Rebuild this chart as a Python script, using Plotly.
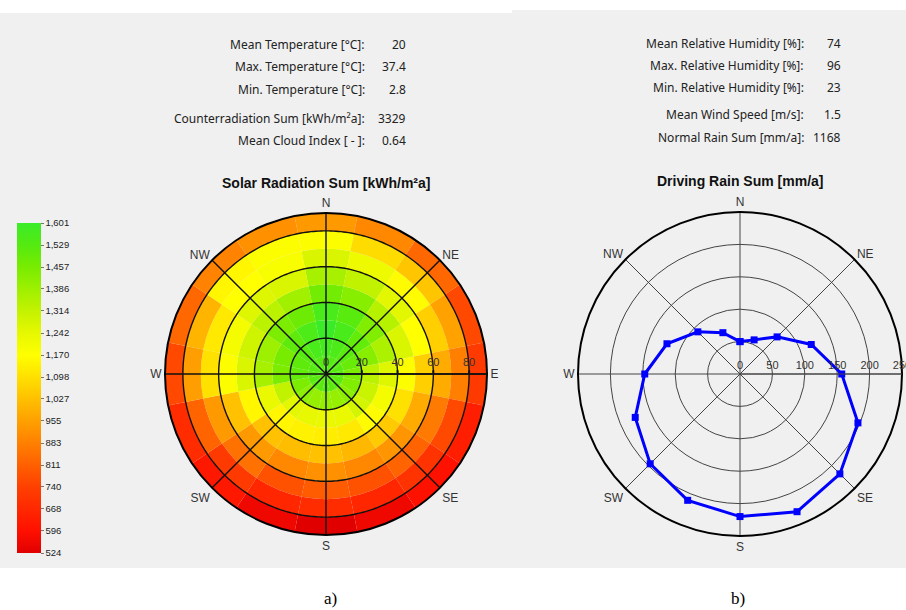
import plotly.graph_objects as go
import numpy as np

W_PX, H_PX = 906, 610

# ---------------- data ----------------
# azimuth sectors, compass degrees clockwise from north
azimuths = [0, 22.5, 45, 67.5, 90, 112.5, 135, 157.5,
            180, 202.5, 225, 247.5, 270, 292.5, 315, 337.5]
# inclination rings (deg), lower edge of each 10-degree ring
incl_lower = [0, 10, 20, 30, 40, 50, 60, 70, 80]
incl_step = 10

# solar radiation sum [kWh/m²a] per azimuth, from horizontal (0) to vertical (90)
rad_N   = [1530, 1570, 1601, 1560, 1470, 1370, 1270, 1180, 940]
rad_NNE = [1530, 1550, 1560, 1520, 1430, 1320, 1220, 1090, 900]
rad_NE  = [1530, 1520, 1500, 1440, 1340, 1250, 1160, 1040, 830]
rad_ENE = [1530, 1490, 1430, 1360, 1270, 1170, 1060, 960, 760]
rad_E   = [1520, 1450, 1330, 1260, 1180, 1060, 980, 880, 720]
rad_ESE = [1520, 1440, 1300, 1200, 1100, 980, 870, 760, 640]
rad_SE  = [1520, 1420, 1280, 1160, 1050, 930, 820, 700, 600]
rad_SSE = [1520, 1400, 1230, 1120, 1010, 900, 780, 660, 560]
rad_S   = [1520, 1400, 1230, 1130, 1030, 920, 800, 680, 524]
rad_SSW = [1520, 1400, 1240, 1140, 1020, 900, 780, 660, 560]
rad_SW  = [1520, 1420, 1250, 1150, 1030, 940, 850, 720, 620]
rad_WSW = [1520, 1450, 1320, 1230, 1150, 1030, 940, 820, 680]
rad_W   = [1530, 1500, 1450, 1370, 1270, 1180, 1100, 950, 760]
rad_WNW = [1530, 1510, 1460, 1390, 1290, 1200, 1120, 1000, 830]
rad_NW  = [1530, 1530, 1510, 1450, 1330, 1260, 1170, 1150, 890]
rad_NNW = [1530, 1560, 1550, 1480, 1380, 1270, 1190, 1180, 920]
radiation = [rad_N, rad_NNE, rad_NE, rad_ENE, rad_E, rad_ESE, rad_SE, rad_SSE,
             rad_S, rad_SSW, rad_SW, rad_WSW, rad_W, rad_WNW, rad_NW, rad_NNW]

rad_min, rad_max = 524, 1601
cbar_ticks = [524, 596, 668, 740, 811, 883, 955, 1027, 1098,
              1170, 1242, 1314, 1386, 1457, 1529, 1601]
cbar_text = ["524", "596", "668", "740", "811", "883", "955", "1,027", "1,098",
             "1,170", "1,242", "1,314", "1,386", "1,457", "1,529", "1,601"]

# driving rain sum [mm/a] per azimuth
driving_rain = [50, 57, 81, 119, 157, 197, 218, 230,
                220, 211, 196, 175, 147, 122, 92, 69]

compass_angles = [0, 45, 90, 135, 180, 225, 270, 315]
compass_labels = ["N", "NE", "E", "SE", "S", "SW", "W", "NW"]

left_labels = ["Mean Temperature [°C]:", "Max. Temperature [°C]:",
               "Min. Temperature [°C]:", "Counterradiation Sum [kWh/m²a]:",
               "Mean Cloud Index [ - ]:"]
left_values = ["20", "37.4", "2.8", "3329", "0.64"]
right_labels = ["Mean Relative Humidity [%]:", "Max. Relative Humidity [%]:",
                "Min. Relative Humidity [%]:", "Mean Wind Speed [m/s]:",
                "Normal Rain Sum [mm/a]:"]
right_values = ["74", "96", "23", "1.5", "1168"]

solar_ticks = [0, 20, 40, 60, 80]
solar_range = [0, 90]
rain_range = [0, 250]
rain_dtick = 50

# ---------------- styling helpers ----------------
def px_x(x):
    return x / W_PX


def px_y(y):
    return 1 - y / H_PX


SANS = "Liberation Sans, Arial, sans-serif"
UI = "Noto Sans, Open Sans, sans-serif"

colorscale = [
    [0.000, "#e00000"], [0.067, "#ff1000"], [0.133, "#ff2800"],
    [0.200, "#ff4000"], [0.267, "#ff6000"], [0.333, "#ff8000"],
    [0.400, "#ffa000"], [0.467, "#ffc000"], [0.533, "#ffe000"],
    [0.600, "#ffff00"], [0.667, "#e6f800"], [0.733, "#c4f200"],
    [0.800, "#9ef000"], [0.867, "#78ec00"], [0.933, "#55ea10"],
    [1.000, "#3aec28"],
]

fig = go.Figure()

# ---------------- solar radiation rose ----------------
theta_cells, base_cells, r_cells, val_cells = [], [], [], []
for az, row in zip(azimuths, radiation):
    for lo, v in zip(incl_lower, row):
        theta_cells.append(az)
        base_cells.append(lo)
        r_cells.append(incl_step)
        val_cells.append(v)

fig.add_trace(go.Barpolar(
    theta=theta_cells, r=r_cells, base=base_cells,
    width=[360 / len(azimuths)] * len(theta_cells),
    marker=dict(
        color=val_cells, colorscale=colorscale, cmin=rad_min, cmax=rad_max,
        line=dict(width=0),
        showscale=True,
        colorbar=dict(
            x=px_x(17), xanchor="left", xpad=0,
            y=px_y(388), yanchor="middle", ypad=0,
            len=330, lenmode="pixels", thickness=24, thicknessmode="pixels",
            outlinewidth=0, tickmode="array", tickvals=cbar_ticks, ticktext=cbar_text,
            ticks="outside", ticklen=3, tickcolor="#777",
            tickfont=dict(family=SANS, size=9.5, color="#222"),
        ),
    ),
    hoverinfo="skip", subplot="polar", showlegend=False,
))

# grid circles and spokes drawn over the colour cells
circle_theta = np.linspace(0, 360, 361)
for rv in solar_ticks[1:]:
    fig.add_trace(go.Scatterpolar(
        r=[rv] * len(circle_theta), theta=circle_theta, mode="lines",
        line=dict(color="#111", width=1.4), hoverinfo="skip",
        subplot="polar", showlegend=False))
for a in compass_angles[:4]:
    fig.add_trace(go.Scatterpolar(
        r=[solar_range[1], 0, solar_range[1]], theta=[a, a, a + 180], mode="lines",
        line=dict(color="#111", width=1.4), hoverinfo="skip",
        subplot="polar", showlegend=False))

# ---------------- driving rain rose ----------------
fig.add_trace(go.Scatterpolar(
    r=driving_rain + driving_rain[:1], theta=azimuths + azimuths[:1],
    mode="lines+markers",
    line=dict(color="#0000ff", width=3),
    marker=dict(symbol="square", size=7, color="#0000ff"),
    hoverinfo="skip", subplot="polar2", showlegend=False,
))

angular_common = dict(
    rotation=90, direction="clockwise", tickmode="array",
    tickvals=compass_angles, ticktext=compass_labels,
    showline=True, linecolor="#000", linewidth=2, ticks="",
    tickfont=dict(family=SANS, size=12, color="#333"),
)

fig.update_layout(
    width=W_PX, height=H_PX,
    margin=dict(l=0, r=0, t=0, b=0),
    paper_bgcolor="white", plot_bgcolor="white",
    polar=dict(
        domain=dict(x=[px_x(165), px_x(487)], y=[px_y(535), px_y(213)]),
        bgcolor="rgba(0,0,0,0)", barmode="overlay",
        angularaxis=dict(showgrid=False, **angular_common),
        radialaxis=dict(
            range=solar_range, tickmode="array", tickvals=solar_ticks,
            showgrid=False, showline=True, linecolor="#111", linewidth=1.4,
            angle=0, side="counterclockwise", ticks="outside", ticklen=3,
            tickcolor="#111", tickwidth=2,
            tickfont=dict(family=SANS, size=11, color="#333"),
        ),
    ),
    polar2=dict(
        domain=dict(x=[px_x(578), px_x(902)], y=[px_y(536), px_y(212)]),
        bgcolor="rgba(0,0,0,0)",
        angularaxis=dict(showgrid=True, gridcolor="#444", gridwidth=1, **angular_common),
        radialaxis=dict(
            range=rain_range, dtick=rain_dtick, showgrid=True, gridcolor="#444",
            gridwidth=1, showline=True, linecolor="#444", linewidth=1,
            angle=0, side="counterclockwise", ticks="",
            tickfont=dict(family=SANS, size=11, color="#333"),
        ),
    ),
)

# panel backgrounds
fig.add_shape(type="rect", xref="paper", yref="paper",
              x0=0, x1=px_x(512), y0=px_y(568), y1=px_y(13),
              fillcolor="#f0f0f0", line=dict(width=0), layer="below")
fig.add_shape(type="rect", xref="paper", yref="paper",
              x0=px_x(512), x1=1, y0=px_y(568), y1=px_y(10),
              fillcolor="#f0f0f0", line=dict(width=0), layer="below")


def note(x, y, text, font, xanchor="center"):
    fig.add_annotation(x=px_x(x), y=px_y(y), xref="paper", yref="paper",
                       text=text, showarrow=False, xanchor=xanchor,
                       yanchor="middle", font=font)


# chart titles
title_font = dict(family=SANS, size=14, color="#111")
note(326, 183, "<b>Solar Radiation Sum [kWh/m²a]</b>", title_font)
note(740, 181, "<b>Driving Rain Sum [mm/a]</b>", title_font)

# climate summary tables
ui_font = dict(family=UI, size=12, color="#222")
left_rows_y = [45, 67, 90, 118, 140]
right_rows_y = [43, 65, 87, 115, 138]
for lab, val, yy in zip(left_labels, left_values, left_rows_y):
    note(367, yy, lab, ui_font, "right")
    note(408, yy, val, ui_font, "right")
for lab, val, yy in zip(right_labels, right_values, right_rows_y):
    note(806, yy, lab, ui_font, "right")
    note(843, yy, val, ui_font, "right")

# panel captions
cap_font = dict(family="Liberation Serif, serif", size=17, color="#000")
note(330, 598, "a)", cap_font)
note(738, 598, "b)", cap_font)

fig.write_html("out.html")
